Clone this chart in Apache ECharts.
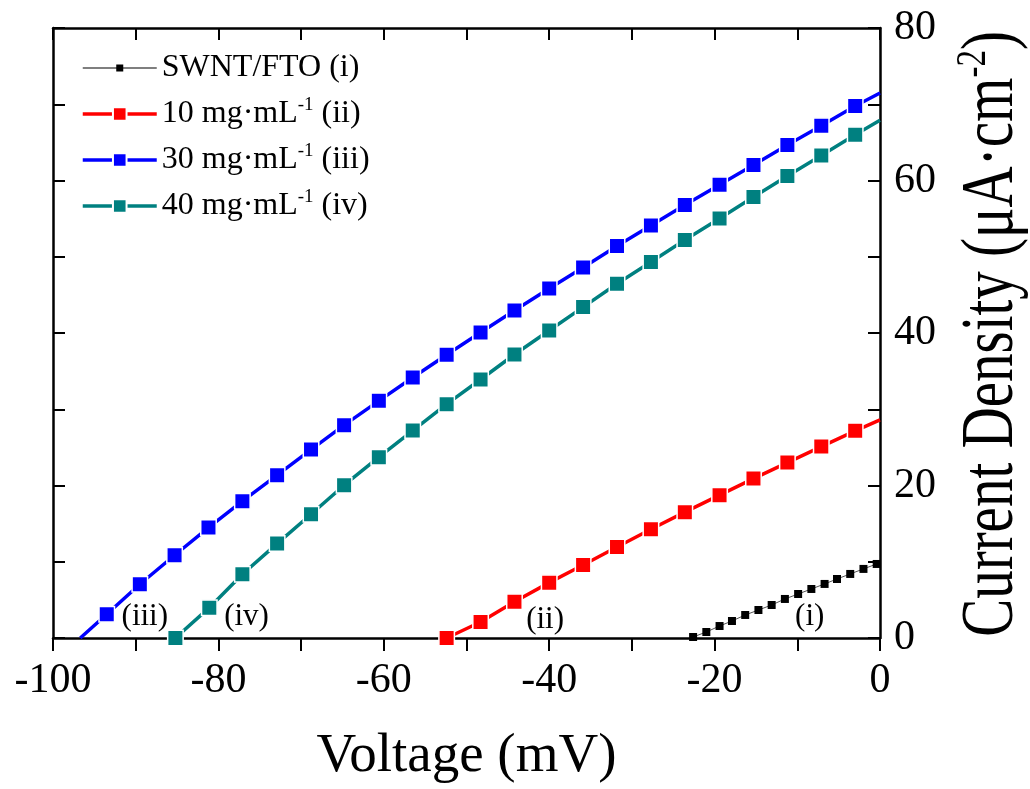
<!DOCTYPE html>
<html>
<head>
<meta charset="utf-8">
<script src="https://cdn.jsdelivr.net/npm/echarts@6/dist/echarts.min.js"></script>
<style>
  html, body { margin: 0; padding: 0; background: #ffffff; }
  #chart { width: 1030px; height: 789px; }
</style>
</head>
<body>
<div id="chart"></div>
<script>
// ---- Data: current density (µA·cm^-2) vs. voltage (mV) ----
const seriesNames = ['SWNT/FTO (i)', '10 mg·mL-1 (ii)', '30 mg·mL-1 (iii)', '40 mg·mL-1 (iv)'];
const legendLabels = ['SWNT/FTO (i)', '10 mg·mL{sup|-1} (ii)', '30 mg·mL{sup|-1} (iii)', '40 mg·mL{sup|-1} (iv)'];
const xTitle = 'Voltage (mV)';
const yTitle = 'Current Density (μA·cm{sup|-2})';

// (i) SWNT/FTO
const swntV = [-22.6, -21.0, -19.4, -17.9, -16.3, -14.7, -13.1, -11.5, -9.9, -8.3, -6.7, -5.2, -3.6, -2.0, -0.4];
const swntJ = [0.13, 0.79, 1.57, 2.23, 3.02, 3.67, 4.33, 5.12, 5.77, 6.43, 7.09, 7.74, 8.40, 9.06, 9.71];

// (ii) 10 mg/mL
const c10V = [-52.4, -48.3, -44.2, -40.0, -35.9, -31.8, -27.7, -23.6, -19.4, -15.3, -11.2, -7.1, -3.0];
const c10J = [0, 2.10, 4.76, 7.26, 9.58, 11.94, 14.27, 16.50, 18.73, 20.91, 23.01, 25.10, 27.17];
const c10Edges = [null, [0, 28.61]];

// (iii) 30 mg/mL
const c30V = [-93.5, -89.5, -85.3, -81.2, -77.1, -72.9, -68.8, -64.8, -60.6, -56.5, -52.4, -48.3,
              -44.2, -40.0, -35.9, -31.8, -27.7, -23.6, -19.4, -15.3, -11.2, -7.1, -3.0];
const c30J = [3.11, 7.05, 10.85, 14.48, 17.94, 21.35, 24.71, 27.91, 31.10, 34.16, 37.14, 40.07,
              42.95, 45.84, 48.60, 51.40, 54.11, 56.78, 59.45, 62.03, 64.66, 67.19, 69.78];
const c30Edges = [[-96.7, 0], [0, 71.48]];

// (iv) 40 mg/mL
const c40V = [-85.2, -81.1, -77.1, -72.9, -68.8, -64.8, -60.6, -56.5, -52.4, -48.3, -44.2,
              -40.0, -35.9, -31.8, -27.7, -23.6, -19.4, -15.3, -11.2, -7.1, -3.0];
const c40J = [0, 3.98, 8.36, 12.38, 16.23, 20.04, 23.71, 27.20, 30.67, 33.90, 37.18,
              40.33, 43.40, 46.46, 49.30, 52.19, 55.03, 57.83, 60.59, 63.29, 66.01];
const c40Edges = [null, [0, 67.89]];

// Curve labels placed in data coordinates
const curveTags = ['(iii)', '(iv)', '(ii)', '(i)'];
const curveTagV = [-88.9, -76.6, -40.5, -8.5];
const curveTagJ = [2.8, 2.8, 2.4, 2.8];

// Axis ranges
const xMin = -100, xMax = 0, xStep = 10;
const yMin = 0, yMax = 80, yStep = 10;

// ---- Build chart ----
const FONT = "'Liberation Serif', 'Times New Roman', 'DejaVu Serif', serif";
const supStyle = { fontFamily: FONT, fontSize: 19, color: '#000', verticalAlign: 'top', lineHeight: 36 };

function pairs(vs, js, edges) {
  const pts = vs.map((v, i) => [v, js[i]]);
  if (edges) {
    if (edges[0]) pts.unshift({ value: edges[0], symbol: 'none' });
    if (edges[1]) pts.push({ value: edges[1], symbol: 'none' });
  }
  return pts;
}

function everyOther(v) {
  return (Math.round(v) % 20 === 0) ? String(v) : '';
}

const chart = echarts.init(document.getElementById('chart'), null, { renderer: 'canvas' });

const lineBase = {
  type: 'line',
  xAxisIndex: 0,
  yAxisIndex: 0,
  symbol: 'rect',
  symbolSize: 15.5,
  lineStyle: { width: 3.5 },
  emphasis: { disabled: true },
  animation: false
};

const GRID = { left: 53, right: 150, top: 28, bottom: 151 };

const option = {
  backgroundColor: '#ffffff',
  animation: false,
  grid: Object.assign({ containLabel: false, outerBoundsMode: 'none' }, GRID),
  legend: {
    left: 76,
    top: 45,
    orient: 'vertical',
    itemWidth: 74,
    itemHeight: 17,
    itemGap: 10,
    selectedMode: false,
    lineStyle: { width: 'inherit' },
    data: [
      { name: seriesNames[0],
        icon: 'path://M0,0h0.01v0.01h-0.01z M0,7.9h74v1.2h-74z M33.5,5h7v7h-7z M73.99,16.99h0.01v0.01h-0.01z' },
      { name: seriesNames[1] },
      { name: seriesNames[2] },
      { name: seriesNames[3] }
    ],
    formatter: function (name) {
      return legendLabels[seriesNames.indexOf(name)];
    },
    textStyle: {
      fontFamily: FONT, fontSize: 32, color: '#000', lineHeight: 36,
      rich: { sup: supStyle }
    }
  },
  // Vertical title of the right-hand axis, set in a tall, narrow face
  graphic: [{
    type: 'text',
    x: 993,
    y: 334,
    rotation: Math.PI / 2,
    scaleX: 1,
    scaleY: 1.3,
    silent: true,
    style: {
      text: yTitle,
      fontFamily: FONT,
      fontSize: 57,
      fill: '#000',
      align: 'center',
      verticalAlign: 'middle',
      lineHeight: 62,
      rich: { sup: { fontFamily: FONT, fontSize: 33, fill: '#000', verticalAlign: 'top', lineHeight: 62 } }
    }
  }],
  xAxis: [
    {
      type: 'value', position: 'bottom', min: xMin, max: xMax, interval: xStep,
      name: xTitle, nameLocation: 'middle', nameGap: 91,
      nameTextStyle: { fontFamily: FONT, fontSize: 55, color: '#000' },
      axisLine: { onZero: false, lineStyle: { color: '#000', width: 2.5 } },
      axisTick: { inside: false, length: 13, lineStyle: { color: '#000', width: 2 } },
      axisLabel: { formatter: everyOther, fontFamily: FONT, fontSize: 42, color: '#000', margin: 22, showMinLabel: true, showMaxLabel: true },
      splitLine: { show: false }
    },
    {
      type: 'value', position: 'top', min: xMin, max: xMax, interval: xStep,
      axisLine: { onZero: false, lineStyle: { color: '#000', width: 2.5 } },
      axisTick: { inside: true, length: 12, lineStyle: { color: '#000', width: 2 } },
      axisLabel: { show: false },
      splitLine: { show: false }
    }
  ],
  yAxis: [
    {
      type: 'value', position: 'right', min: yMin, max: yMax, interval: yStep,
      axisLine: { onZero: false, lineStyle: { color: '#000', width: 2.5 } },
      axisTick: { inside: true, length: 12, lineStyle: { color: '#000', width: 2 } },
      axisLabel: { formatter: everyOther, fontFamily: FONT, fontSize: 42, color: '#000', margin: 14, showMinLabel: true, showMaxLabel: true },
      splitLine: { show: false }
    },
    {
      type: 'value', position: 'left', min: yMin, max: yMax, interval: yStep,
      axisLine: { onZero: false, lineStyle: { color: '#000', width: 2.5 } },
      axisTick: { inside: true, length: 12, lineStyle: { color: '#000', width: 2 } },
      axisLabel: { show: false },
      splitLine: { show: false }
    }
  ],
  series: [
    Object.assign({}, lineBase, {
      name: seriesNames[0],
      data: pairs(swntV, swntJ, null),
      symbolSize: 8,
      color: '#000000',
      itemStyle: { color: '#000000' },
      lineStyle: { width: 1, color: '#555555' },
      z: 5
    }),
    Object.assign({}, lineBase, {
      name: seriesNames[1],
      data: pairs(c10V, c10J, c10Edges),
      color: '#ff0000',
      itemStyle: { color: '#ff0000', borderColor: '#ffffff', borderWidth: 1.5 },
      lineStyle: { width: 3.5, color: '#ff0000' }
    }),
    Object.assign({}, lineBase, {
      name: seriesNames[2],
      data: pairs(c30V, c30J, c30Edges),
      color: '#0000ff',
      itemStyle: { color: '#0000ff', borderColor: '#ffffff', borderWidth: 1.5 },
      lineStyle: { width: 3.5, color: '#0000ff' }
    }),
    Object.assign({}, lineBase, {
      name: seriesNames[3],
      data: pairs(c40V, c40J, c40Edges),
      color: '#008080',
      itemStyle: { color: '#008080', borderColor: '#ffffff', borderWidth: 1.5 },
      lineStyle: { width: 3.5, color: '#008080' }
    }),
    {
      type: 'scatter',
      name: 'curve-tags',
      xAxisIndex: 0,
      yAxisIndex: 0,
      silent: true,
      symbolSize: 0,
      z: 10,
      itemStyle: { opacity: 1 },
      data: curveTags.map((t, i) => ({ name: t, value: [curveTagV[i], curveTagJ[i]] })),
      label: {
        show: true,
        position: 'inside',
        formatter: '{b}',
        fontFamily: FONT,
        fontSize: 31,
        color: '#000000',
        opacity: 1
      }
    }
  ]
};

chart.setOption(option);
</script>
</body>
</html>
